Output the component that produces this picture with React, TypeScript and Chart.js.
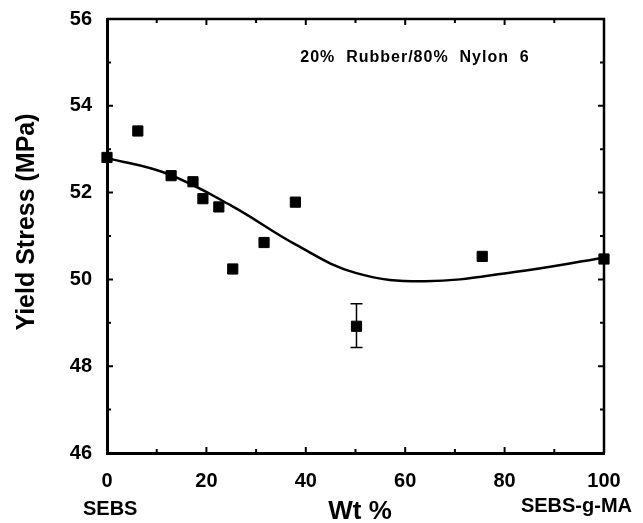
import React, { useEffect, useRef } from "react";
import { Chart, registerables } from "chart.js";

Chart.register(...registerables);

// Measured points: Wt % SEBS-g-MA in rubber phase vs yield stress (MPa)
const wtPercent = [0, 6.2, 12.9, 17.3, 19.3, 22.5, 25.3, 31.6, 37.9, 50.2, 75.5, 100];
const yieldStress = [52.81, 53.42, 52.39, 52.25, 51.86, 51.67, 50.24, 50.85, 51.78, 48.92, 50.53, 50.47];

// Error bar (only the 50% point carries one)
const errorX = [50.2];
const errorLow = [48.43];
const errorHigh = [49.44];

// Smooth trend curve
const fitX = [0, 12, 25, 38, 50, 64, 82, 100];
const fitY = [52.8, 52.44, 51.7, 50.8, 50.15, 49.96, 50.17, 50.5];

// Axis ticks
const xMajorTicks = [0, 20, 40, 60, 80, 100];
const xMinorTicks = [10, 30, 50, 70, 90];
const yMajorTicks = [46, 48, 50, 52, 54, 56];
const yMinorTicks = [47, 49, 51, 53, 55];

// Text
const yTitle = "Yield Stress (MPa)";
const xTitle = "Wt %";
const leftEndLabel = "SEBS";
const rightEndLabel = "SEBS-g-MA";
const annotation = "20%  Rubber/80%  Nylon  6";

const FONT = "'Liberation Sans', Arial, Helvetica, sans-serif";

const decorPlugin = {
  id: "decor",
  afterDatasetsDraw(chart: any) {
    const { ctx, chartArea, scales } = chart;
    const xs = scales.x;
    const ys = scales.y;
    ctx.save();
    ctx.strokeStyle = "#000";
    ctx.fillStyle = "#000";

    // error bars
    ctx.lineWidth = 1.5;
    for (let i = 0; i < errorX.length; i++) {
      const px = xs.getPixelForValue(errorX[i]);
      const pLo = ys.getPixelForValue(errorLow[i]);
      const pHi = ys.getPixelForValue(errorHigh[i]);
      ctx.beginPath();
      ctx.moveTo(px, pLo);
      ctx.lineTo(px, pHi);
      ctx.moveTo(px - 6, pLo);
      ctx.lineTo(px + 6, pLo);
      ctx.moveTo(px - 6, pHi);
      ctx.lineTo(px + 6, pHi);
      ctx.stroke();
    }

    // top and right frame
    ctx.lineWidth = 2.5;
    ctx.beginPath();
    ctx.moveTo(chartArea.left, chartArea.top);
    ctx.lineTo(chartArea.right, chartArea.top);
    ctx.lineTo(chartArea.right, chartArea.bottom);
    ctx.stroke();

    // inward ticks on all four sides
    ctx.lineWidth = 2;
    const drawX = (v: number, len: number) => {
      const px = xs.getPixelForValue(v);
      ctx.beginPath();
      ctx.moveTo(px, chartArea.bottom);
      ctx.lineTo(px, chartArea.bottom - len);
      ctx.moveTo(px, chartArea.top);
      ctx.lineTo(px, chartArea.top + len);
      ctx.stroke();
    };
    const drawY = (v: number, len: number) => {
      const py = ys.getPixelForValue(v);
      ctx.beginPath();
      ctx.moveTo(chartArea.left, py);
      ctx.lineTo(chartArea.left + len, py);
      ctx.moveTo(chartArea.right, py);
      ctx.lineTo(chartArea.right - len, py);
      ctx.stroke();
    };
    xMajorTicks.forEach((v) => drawX(v, 6));
    xMinorTicks.forEach((v) => drawX(v, 4));
    yMajorTicks.forEach((v) => drawY(v, 6));
    yMinorTicks.forEach((v) => drawY(v, 4));

    // annotation
    ctx.font = `bold 16px ${FONT}`;
    (ctx as any).letterSpacing = "1px";
    ctx.textAlign = "center";
    ctx.textBaseline = "alphabetic";
    ctx.fillText(annotation, 415, 62);
    (ctx as any).letterSpacing = "0px";

    // axis titles and end labels
    ctx.font = `bold 26px ${FONT}`;
    ctx.textAlign = "center";
    ctx.fillText(xTitle, 360, 519);

    ctx.font = `bold 20px ${FONT}`;
    ctx.textAlign = "left";
    ctx.fillText(leftEndLabel, 83, 515);
    ctx.textAlign = "right";
    ctx.fillText(rightEndLabel, 632, 512);

    ctx.save();
    ctx.translate(27, 222);
    ctx.rotate(-Math.PI / 2);
    ctx.font = `bold 25px ${FONT}`;
    ctx.textAlign = "center";
    ctx.textBaseline = "middle";
    ctx.fillText(yTitle, 0, 0);
    ctx.restore();

    ctx.restore();
  },
};

export default function App() {
  const canvasRef = useRef<HTMLCanvasElement | null>(null);

  useEffect(() => {
    const canvas = canvasRef.current;
    if (!canvas) return;
    const chart = new Chart(canvas, {
      type: "scatter",
      data: {
        datasets: [
          {
            type: "line",
            label: "fit",
            data: fitX.map((x, i) => ({ x, y: fitY[i] })),
            borderColor: "#000",
            borderWidth: 2.5,
            pointRadius: 0,
            fill: false,
            tension: 0.4,
          } as any,
          {
            label: "data",
            data: wtPercent.map((x, i) => ({ x, y: yieldStress[i] })),
            pointStyle: "rect",
            pointRadius: 7.2,
            backgroundColor: "#000",
            borderColor: "#000",
            borderWidth: 1,
            clip: false,
          } as any,
        ],
      },
      options: {
        responsive: false,
        animation: false,
        events: [],
        layout: { padding: { top: 19, right: 39, left: 0, bottom: 0 } },
        plugins: {
          legend: { display: false },
          tooltip: { enabled: false },
        },
        scales: {
          x: {
            type: "linear",
            min: 0,
            max: 100,
            grid: { display: false },
            border: { display: true, color: "#000", width: 3 },
            afterFit: (s: any) => {
              s.height = 70;
            },
            afterBuildTicks: (s: any) => {
              s.ticks = xMajorTicks.map((v) => ({ value: v }));
            },
            ticks: {
              padding: 8,
              color: "#000",
              font: { family: FONT, size: 20, weight: "bold" },
              maxRotation: 0,
            },
          },
          y: {
            type: "linear",
            min: 46,
            max: 56,
            grid: { display: false },
            border: { display: true, color: "#000", width: 3 },
            afterFit: (s: any) => {
              s.width = 107;
            },
            afterBuildTicks: (s: any) => {
              s.ticks = yMajorTicks.map((v) => ({ value: v }));
            },
            ticks: {
              padding: 7,
              color: "#000",
              font: { family: FONT, size: 20, weight: "bold" },
            },
          },
        },
      },
      plugins: [decorPlugin],
    });
    return () => chart.destroy();
  }, []);

  return (
    <div style={{ position: "fixed", left: 0, top: 0, width: 643, height: 523, background: "#fff" }}>
      <canvas ref={canvasRef} width={643} height={523} style={{ display: "block" }} />
    </div>
  );
}
